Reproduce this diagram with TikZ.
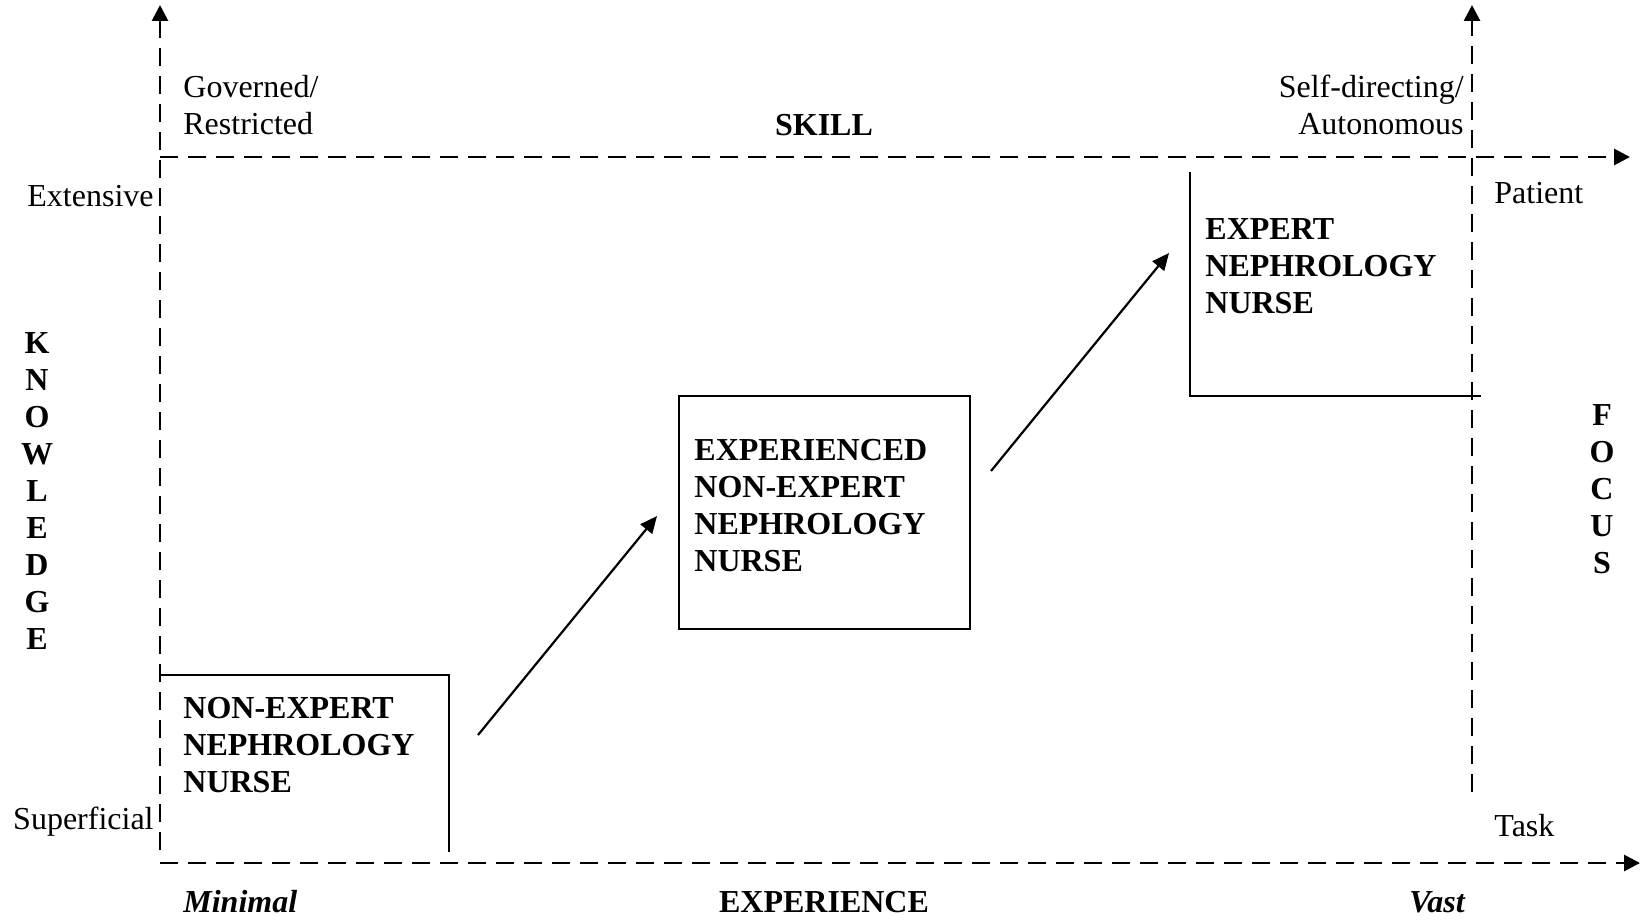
\documentclass[tikz,border=0pt]{standalone}
\usepackage{fontspec}
\setmainfont{Liberation Serif}
\usetikzlibrary{arrows.meta}

\begin{document}
\begin{tikzpicture}[x=0.5pt,y=-0.5pt,font=\fontsize{16}{18.5}\selectfont]
  \tikzstyle{axis}=[line width=1.4pt,dash pattern=on 9pt off 5pt,-{Triangle[length=8pt,width=8pt]}]
  \tikzstyle{edge}=[line width=1pt]
  \tikzstyle{step arrow}=[line width=1.1pt,-{Triangle[length=8.5pt,width=7.5pt]}]
  \tikzstyle{label}=[inner sep=0pt,align=left]
  \tikzstyle{stage}=[inner sep=0pt,align=left,font=\fontsize{16}{18.5}\selectfont\bfseries]
  \tikzstyle{letter}=[inner sep=0pt,font=\fontsize{16}{18.5}\selectfont\bfseries]

  \useasboundingbox (0,0) rectangle (1641,920);

  % axes
  \coordinate (O) at (160,863);
  \coordinate (K-end) at (160,5);
  \coordinate (S-start) at (160,157);
  \coordinate (S-end) at (1630,157);
  \coordinate (E-end) at (1640,863);
  \coordinate (F-start) at (1472,792);
  \coordinate (F-end) at (1472,5);
  \draw[axis] (160,850) -- (K-end);
  \draw[axis] (S-start) -- (S-end);
  \draw[axis] (O) -- (E-end);
  \draw[axis] (F-start) -- (F-end);

  % axis labels
  \node[label,anchor=west] (governed) at (183,105) {Governed/\\Restricted};
  \node[label,font=\fontsize{16}{18.5}\selectfont\bfseries] (skill) at (824,125) {SKILL};
  \node[label,anchor=east,align=right] (selfdir) at (1464,105) {Self-directing/\\Autonomous};
  \node[label,anchor=east] (extensive) at (154,196) {Extensive};
  \node[label,anchor=east] (superficial) at (154,822) {Superficial};
  \node[label,anchor=west] (patient) at (1494,193) {Patient};
  \node[label,anchor=west] (task) at (1494,826) {Task};
  \node[label,anchor=west,font=\fontsize{16}{18.5}\selectfont\bfseries\itshape] (minimal) at (183,902) {Minimal};
  \node[label,font=\fontsize{16}{18.5}\selectfont\bfseries] (experience) at (824,902) {EXPERIENCE};
  \node[label,anchor=east,font=\fontsize{16}{18.5}\selectfont\bfseries\itshape] (vast) at (1465,902) {Vast};

  \foreach \text [count=\i] in {K,N,O,W,L,E,D,G,E}
    \node[letter] (K-\i) at (37,306+37*\i) {\text};

  \foreach \text [count=\i] in {F,O,C,U,S}
    \node[letter] (F-\i) at (1602,378+37*\i) {\text};

  % stages
  \draw[edge] (160,675) -- (449,675) -- (449,852);
  \node[stage,anchor=west] (novice) at (183,745) {NON-EXPERT\\NEPHROLOGY\\NURSE};

  \node[draw,edge,minimum width=145.5pt,minimum height=116.5pt] (box-mid) at (824.5,512.5) {};
  \node[stage,anchor=west] (middle) at (694,506) {EXPERIENCED\\NON-EXPERT\\NEPHROLOGY\\NURSE};

  \draw[edge] (1190,172) -- (1190,396) -- (1481,396);
  \node[stage,anchor=west] (expert) at (1205,266) {EXPERT\\NEPHROLOGY\\NURSE};

  % progression
  \coordinate (A-1) at (478,735);
  \coordinate (A-2) at (657,516);
  \coordinate (B-1) at (991,471);
  \coordinate (B-2) at (1169,253);
  \draw[step arrow] (A-1) -- (A-2);
  \draw[step arrow] (B-1) -- (B-2);
\end{tikzpicture}
\end{document}
